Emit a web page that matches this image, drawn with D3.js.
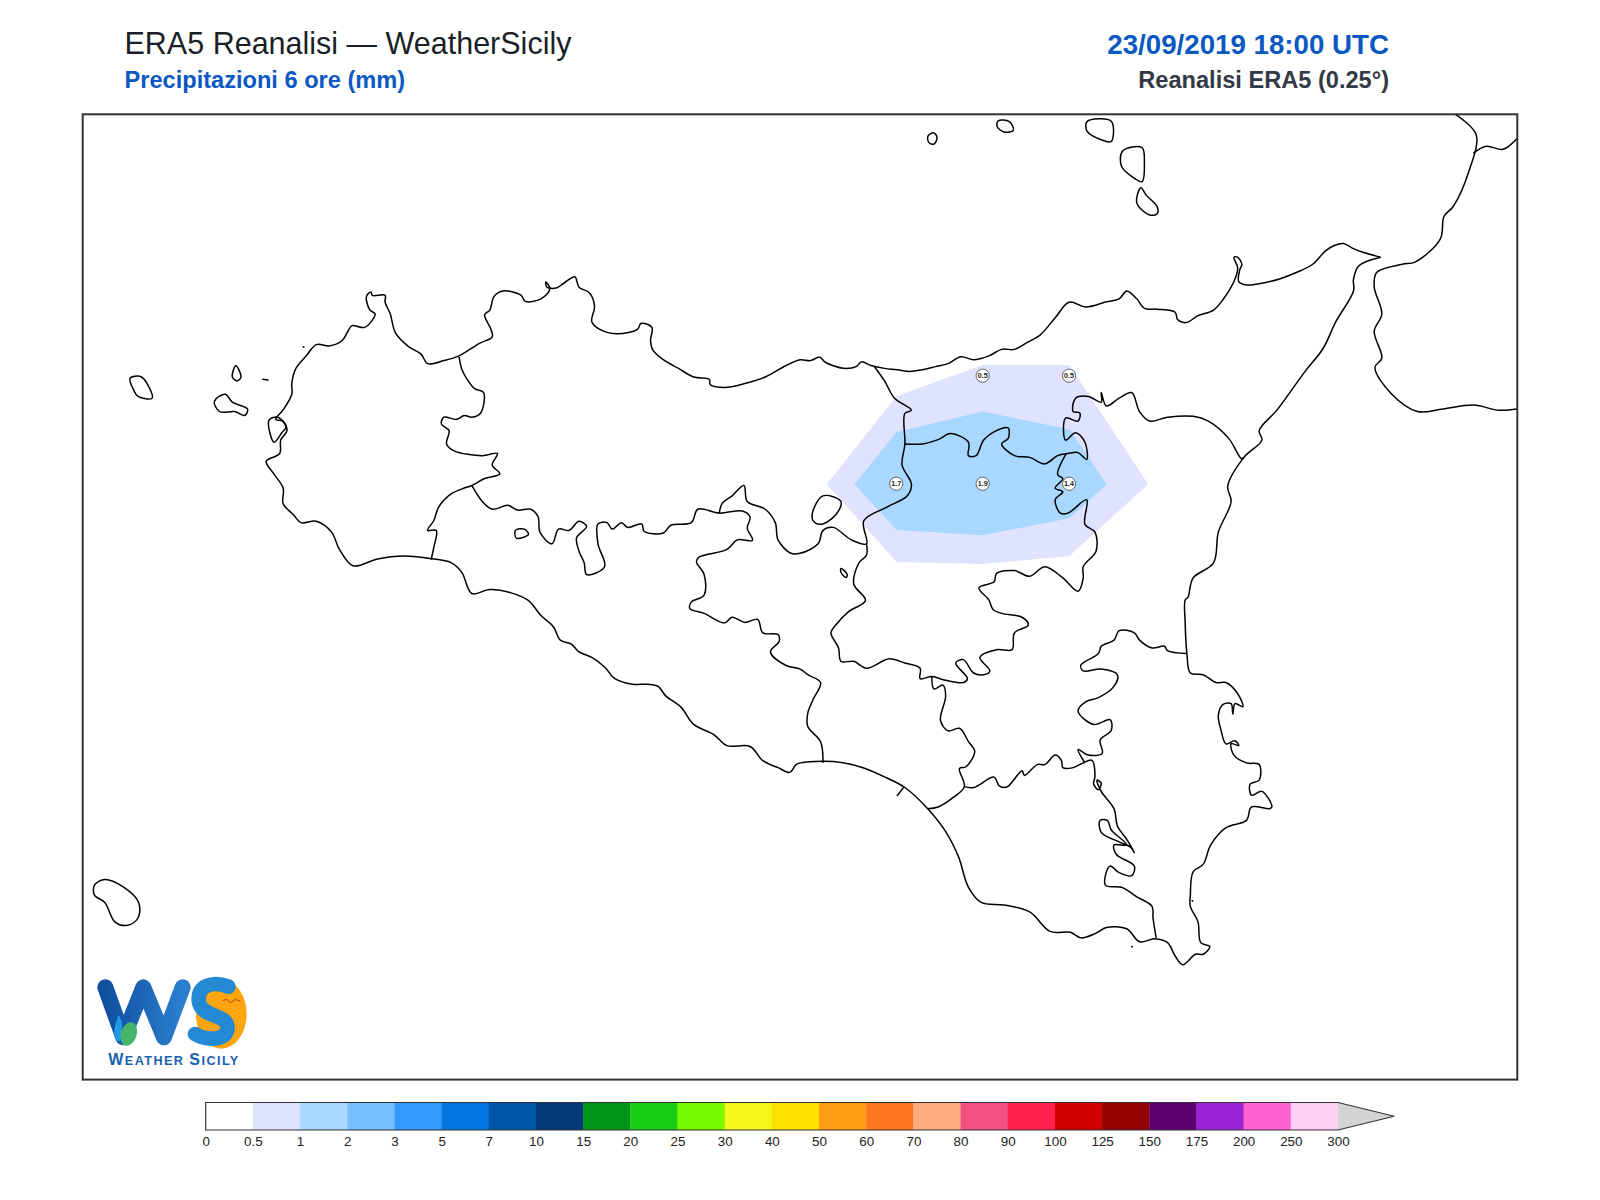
<!DOCTYPE html>
<html>
<head>
<meta charset="utf-8">
<title>ERA5 Reanalisi - WeatherSicily</title>
<script src="https://d3js.org/d3.v7.min.js"></script>
<style>
    html, body { margin: 0; padding: 0; background: #fff; }
    svg { display: block; }
    text { font-family: "Liberation Sans", Arial, sans-serif; }
</style>
</head>
<body>
<div id="chart"></div>
<script>
// extent of the map, degrees
var lonExtent = [11.896, 16.047];
var latExtent = [36.371, 38.605];

// ERA5 grid points with a printed value
var gridLon = [14.5, 14.75, 14.25, 14.5, 14.75];
var gridLat = [38.0, 38.0, 37.75, 37.75, 37.75];
var gridMm = ['0.5', '0.5', '1.7', '1.9', '1.4'];

// contour bands
var band05to1 = [[14.049,37.749],[14.251,37.953],[14.5,38.025],[14.751,38.025],[14.979,37.749],[14.751,37.583],[14.5,37.564],[14.251,37.569]];
var band1to2 = [[14.129,37.749],[14.251,37.870],[14.5,37.917],[14.751,37.876],[14.859,37.749],[14.751,37.670],[14.5,37.631],[14.251,37.643]];

// colour bar
var barLabels = ['0','0.5','1','2','3','5','7','10','15','20','25','30','40','50','60','70','80','90','100','125','150','175','200','250','300'];
var barColors = ['#ffffff','#e0e3ff','#a8d8ff','#74bfff','#3399ff','#0478e0','#0055a8','#033a78','#009418','#1acc14','#78fa00','#f5f51a','#ffe100','#ff9c14','#ff7520','#ffaa80','#f25080','#ff2050','#d00000','#920000','#5c0070','#9c22d8','#ff60d4','#ffd0f4'];

// coast lines, [lon, lat]
var coastSicily = [[15.652,38.274],[15.603,38.285],[15.573,38.294],[15.544,38.306],[15.519,38.302],[15.492,38.289],[15.455,38.258],[15.411,38.240],[15.359,38.224],[15.308,38.214],[15.263,38.210],[15.241,38.218],[15.244,38.245],[15.250,38.258],[15.238,38.274],[15.227,38.274],[15.238,38.249],[15.227,38.218],[15.197,38.178],[15.168,38.152],[15.123,38.139],[15.089,38.123],[15.064,38.130],[15.057,38.147],[15.005,38.154],[14.968,38.156],[14.946,38.178],[14.917,38.196],[14.895,38.178],[14.858,38.171],[14.799,38.159],[14.750,38.170],[14.710,38.134],[14.666,38.094],[14.629,38.077],[14.592,38.061],[14.555,38.061],[14.518,38.046],[14.474,38.037],[14.437,38.044],[14.400,38.028],[14.363,38.021],[14.326,38.014],[14.289,38.010],[14.252,38.014],[14.216,38.017],[14.179,38.023],[14.149,38.032],[14.134,38.021],[14.097,38.017],[14.068,38.023],[14.043,38.032],[14.028,38.043],[14.002,38.035],[13.972,38.037],
    [13.930,38.023],[13.871,37.997],[13.812,37.982],[13.753,37.973],[13.712,37.979],[13.709,37.992],[13.664,37.997],[13.620,38.017],[13.576,38.037],[13.546,38.059],[13.539,38.081],[13.543,38.112],[13.511,38.121],[13.502,38.108],[13.443,38.097],[13.391,38.108],[13.369,38.125],[13.377,38.161],[13.362,38.192],[13.332,38.205],[13.320,38.229],[13.288,38.214],[13.266,38.203],[13.239,38.205],[13.236,38.217],[13.248,38.201],[13.222,38.178],[13.177,38.172],[13.163,38.187],[13.111,38.196],[13.086,38.183],[13.074,38.152],[13.059,38.141],[13.077,38.108],[13.081,38.090],[13.044,38.075],[12.985,38.046],[12.941,38.035],[12.894,38.028],[12.875,38.050],[12.838,38.068],[12.801,38.099],[12.786,38.143],[12.771,38.170],[12.771,38.186],[12.734,38.186],[12.730,38.194],[12.717,38.183],[12.727,38.152],[12.742,38.143],[12.712,38.112],[12.675,38.116],[12.661,38.099],[12.646,38.081],[12.609,38.069],[12.572,38.072],[12.543,38.046],[12.513,38.017],[12.501,37.983],[12.501,37.957],[12.476,37.921],[12.454,37.899],[12.476,37.895],[12.487,37.873],[12.469,37.851],[12.466,37.820],[12.427,37.802],[12.447,37.775],[12.476,37.740],[12.476,37.704],[12.506,37.678],[12.528,37.660],[12.572,37.663],[12.616,37.638],[12.639,37.598],[12.678,37.560],[12.749,37.576],[12.823,37.583],[12.912,37.576],[12.963,37.567],[12.993,37.545],[13.022,37.496],[13.074,37.505],[13.133,37.498],[13.185,37.480],
    [13.222,37.445],[13.258,37.419],[13.278,37.388],[13.310,37.379],[13.332,37.361],[13.369,37.348],[13.406,37.326],[13.436,37.299],[13.487,37.286],[13.531,37.286],[13.561,37.281],[13.583,37.259],[13.627,37.233],[13.664,37.193],[13.723,37.169],[13.760,37.144],[13.827,37.142],[13.864,37.109],[13.908,37.093],[13.942,37.082],[13.960,37.100],[13.972,37.104],[14.068,37.107],[14.149,37.094],[14.223,37.069],[14.275,37.047],[14.341,36.998],[14.393,36.945],[14.430,36.887],[14.459,36.816],[14.496,36.781],[14.562,36.775],[14.636,36.759],[14.695,36.714],[14.754,36.712],[14.784,36.699],[14.828,36.710],[14.858,36.723],[14.917,36.720],[14.954,36.690],[14.998,36.697],[15.035,36.688],[15.057,36.657],[15.079,36.637],[15.116,36.661],[15.138,36.661],[15.157,36.679],[15.131,36.688],[15.123,36.736],[15.101,36.772],[15.101,36.799],[15.109,36.852],[15.138,36.869],[15.160,36.914],[15.204,36.954],[15.263,36.971],[15.278,37.002],[15.330,36.998],[15.337,37.002],[15.308,37.038],[15.278,37.029],[15.274,37.055],[15.300,37.064],[15.300,37.100],[15.263,37.104],[15.227,37.122],[15.219,37.148],[15.241,37.144],[15.230,37.155],[15.204,37.148],[15.190,37.179],[15.182,37.215],[15.197,37.240],[15.219,37.241],[15.224,37.217],[15.230,37.241],[15.253,37.234],[15.238,37.264],[15.204,37.290],[15.175,37.290],[15.138,37.308],[15.101,37.312],[15.091,37.357],[15.086,37.428],[15.086,37.481],[15.094,37.487],[15.109,37.532],[15.168,37.567],[15.182,37.638],[15.219,37.709],[15.209,37.744],[15.256,37.811],[15.308,37.851],[15.300,37.873],[15.352,37.921],[15.433,38.010],[15.485,38.063],[15.522,38.125],[15.573,38.196],[15.573,38.223],[15.588,38.254],[15.652,38.274]];
var coastCalabria = [[15.869,38.604],[15.928,38.558],[15.906,38.471],[15.861,38.391],[15.835,38.369],[15.824,38.316],[15.751,38.263],[15.714,38.258],[15.640,38.239],[15.633,38.205],[15.655,38.143],[15.633,38.103],[15.655,38.041],[15.635,38.019],[15.684,37.957],[15.758,37.917],[15.832,37.923],[15.920,37.932],[15.994,37.920],[16.046,37.923]];
var borderCalabria = [[15.920,38.515],[15.957,38.531],[16.006,38.524],[16.046,38.549]];
var gelaPier = [[14.252,37.027],[14.272,37.048]];

// islands and lakes (closed)
var islands = [
    [[12.033,37.994],[12.066,37.997],[12.097,37.948],[12.056,37.952],[12.044,37.966]],
    [[12.329,37.997],[12.339,38.023],[12.354,37.997],[12.343,37.988]],
    [[12.277,37.941],[12.309,37.957],[12.329,37.939],[12.373,37.923],[12.365,37.908],[12.336,37.917],[12.292,37.917]],
    [[12.417,37.992],[12.432,37.990]],
    [[12.435,37.897],[12.450,37.846],[12.472,37.868],[12.484,37.881],[12.461,37.904]],
    [[14.359,38.562],[14.368,38.551],[14.359,38.536],[14.344,38.540],[14.342,38.555]],
    [[14.545,38.590],[14.577,38.588],[14.589,38.568],[14.562,38.564],[14.542,38.577]],
    [[14.802,38.588],[14.872,38.589],[14.872,38.542],[14.843,38.546],[14.802,38.566]],
    [[14.905,38.520],[14.961,38.528],[14.968,38.493],[14.961,38.449],[14.939,38.457],[14.902,38.484]],
    [[14.958,38.435],[14.973,38.418],[15.005,38.391],[15.005,38.375],[14.983,38.372],[14.946,38.400]],
    [[11.930,36.821],[11.960,36.834],[12.011,36.818],[12.058,36.781],[12.056,36.745],[12.026,36.728],[11.989,36.736],[11.960,36.781],[11.930,36.798]],
    [[14.009,37.687],[14.038,37.722],[14.090,37.709],[14.075,37.678],[14.031,37.656],[14.009,37.665]],
    [[14.090,37.554],[14.108,37.540],[14.105,37.533],[14.090,37.545]],
    [[13.148,37.642],[13.174,37.645],[13.186,37.633],[13.151,37.624]],
    [[12.534,38.067],[12.536,38.066]],
    [[14.931,36.679],[14.933,36.678]],
    [[15.106,36.785],[15.108,36.784]]
];

// province borders
var borderTrapani = [[12.985,38.044],[12.993,38.015],[13.008,37.992],[13.030,37.970],[13.056,37.961],[13.047,37.913],[13.022,37.904],[13.000,37.908],[12.978,37.899],[12.941,37.904],[12.934,37.888],[12.956,37.873],[12.949,37.842],[12.971,37.826],[13.052,37.815],[13.096,37.820],[13.081,37.793],[13.103,37.773],[13.059,37.762],[13.022,37.746],[13.000,37.740],[12.963,37.727],[12.926,37.696],[12.912,37.665],[12.894,37.642],[12.919,37.642],[12.912,37.603],[12.904,37.574]];
var borderAgrigento = [[13.022,37.746],[13.052,37.709],[13.081,37.691],[13.126,37.700],[13.155,37.689],[13.192,37.691],[13.214,37.673],[13.219,37.638],[13.254,37.611],[13.273,37.645],[13.303,37.642],[13.332,37.663],[13.354,37.651],[13.325,37.625],[13.332,37.594],[13.347,37.567],[13.354,37.540],[13.406,37.558],[13.387,37.611],[13.387,37.657],[13.413,37.660],[13.428,37.645],[13.455,37.660],[13.472,37.649],[13.514,37.657],[13.520,37.640],[13.576,37.636],[13.598,37.654],[13.657,37.660],[13.676,37.691],[13.738,37.682],[13.805,37.687],[13.827,37.673],[13.819,37.647],[13.834,37.619],[13.790,37.620],[13.760,37.598],[13.679,37.580],[13.672,37.569],[13.694,37.540],[13.694,37.492],[13.657,37.476],[13.653,37.461],[13.694,37.450],[13.753,37.428],[13.775,37.441],[13.812,37.429],[13.849,37.436],[13.864,37.405],[13.908,37.401],[13.911,37.385],[13.886,37.361],[13.930,37.330],[13.972,37.321],[13.994,37.308],[14.031,37.290],[14.009,37.250],[13.994,37.219],[13.994,37.188],[14.031,37.153],[14.038,37.104]];
var borderPalermo = [[13.738,37.682],[13.746,37.704],[13.775,37.722],[13.809,37.746],[13.819,37.709],[13.871,37.691],[13.900,37.660],[13.908,37.620],[13.945,37.589],[13.972,37.589],[14.024,37.611],[14.038,37.642],[14.068,37.649],[14.120,37.620],[14.164,37.611],[14.156,37.664],[14.223,37.696],[14.282,37.722],[14.294,37.749],[14.267,37.793],[14.275,37.842],[14.275,37.913],[14.294,37.920],[14.245,37.948],[14.216,37.988],[14.186,38.022]];
var borderEnna = [[14.164,37.611],[14.164,37.585],[14.142,37.567],[14.127,37.518],[14.161,37.480],[14.112,37.454],[14.075,37.423],[14.061,37.405],[14.083,37.370],[14.090,37.339],[14.127,37.339],[14.164,37.323],[14.230,37.345],[14.275,37.335],[14.319,37.323],[14.319,37.299],[14.353,37.304],[14.393,37.295],[14.444,37.290],[14.456,37.299],[14.422,37.335],[14.444,37.343],[14.474,37.312],[14.503,37.308],[14.521,37.317],[14.492,37.348],[14.540,37.366],[14.585,37.366],[14.592,37.405],[14.632,37.423],[14.614,37.441],[14.555,37.450],[14.530,37.459],[14.518,37.481],[14.489,37.509],[14.533,37.523],[14.540,37.542],[14.592,37.549],[14.636,37.536],[14.680,37.558],[14.732,37.532],[14.776,37.501],[14.791,37.532],[14.791,37.558],[14.828,37.594],[14.825,37.638],[14.796,37.656],[14.801,37.713],[14.747,37.682],[14.725,37.682],[14.710,37.713],[14.732,37.731],[14.710,37.740],[14.732,37.762],[14.717,37.771],[14.742,37.820]];
var borderMessina = [[14.275,37.842],[14.326,37.842],[14.371,37.852],[14.407,37.866],[14.459,37.846],[14.459,37.815],[14.481,37.815],[14.503,37.851],[14.540,37.873],[14.574,37.879],[14.574,37.855],[14.555,37.842],[14.592,37.815],[14.636,37.811],[14.680,37.796],[14.717,37.815],[14.747,37.820],[14.776,37.822],[14.801,37.806],[14.796,37.846],[14.769,37.868],[14.740,37.851],[14.740,37.902],[14.776,37.895],[14.781,37.914],[14.762,37.917],[14.769,37.948],[14.806,37.952],[14.843,37.939],[14.843,37.961],[14.858,37.930],[14.895,37.948],[14.931,37.961],[14.954,37.917],[14.983,37.895],[15.035,37.904],[15.109,37.906],[15.153,37.895],[15.212,37.855],[15.249,37.808],[15.256,37.811]];
var borderGela = [[14.353,37.304],[14.359,37.275],[14.385,37.284],[14.393,37.259],[14.378,37.202],[14.400,37.178],[14.433,37.184],[14.459,37.153],[14.477,37.131],[14.452,37.095],[14.433,37.091],[14.447,37.049],[14.415,37.024],[14.371,37.002],[14.341,36.998]];
var borderRagusa = [[14.447,37.049],[14.474,37.047],[14.533,37.071],[14.548,37.051],[14.570,37.048],[14.614,37.086],[14.621,37.075],[14.658,37.100],[14.680,37.100],[14.710,37.122],[14.728,37.109],[14.732,37.093],[14.762,37.093],[14.791,37.104],[14.816,37.110],[14.825,37.073],[14.821,37.055],[14.835,37.042],[14.843,37.057],[14.831,37.064],[14.843,37.038],[14.880,36.998],[14.890,36.958],[14.917,36.927],[14.939,36.896],[14.928,36.909],[14.895,36.921],[14.843,36.943],[14.840,36.971],[14.861,36.971],[14.872,36.949],[14.917,36.914],[14.880,36.914],[14.887,36.892],[14.939,36.865],[14.931,36.843],[14.895,36.850],[14.868,36.865],[14.855,36.821],[14.902,36.816],[14.946,36.794],[14.990,36.772],[14.993,36.745],[15.002,36.699]];
var borderSiracusa = [[15.091,37.357],[15.035,37.364],[15.026,37.374],[14.990,37.370],[14.954,37.388],[14.939,37.405],[14.895,37.410],[14.880,37.388],[14.843,37.374],[14.835,37.357],[14.784,37.330],[14.791,37.317],[14.843,37.321],[14.890,37.308],[14.880,37.281],[14.835,37.255],[14.799,37.246],[14.776,37.224],[14.821,37.193],[14.869,37.204],[14.872,37.179],[14.840,37.157],[14.846,37.126],[14.806,37.122],[14.776,37.135],[14.796,37.104]];

var width = 1600, height = 1200;
var frame = {left: 82.7, right: 1517.3, top: 114.3, bottom: 1079.6};

var svg = d3.select('#chart').append('svg')
    .attr('width', width)
    .attr('height', height);

var x = d3.scaleLinear().domain(lonExtent).range([frame.left, frame.right]);
var y = d3.scaleLinear().domain(latExtent).range([frame.bottom, frame.top]);

// straight edges for the contours, rounder ones for the coast
var polyLine = d3.line()
    .x(function (d) { return x(d[0]); })
    .y(function (d) { return y(d[1]); });
var line = d3.line()
    .x(function (d) { return x(d[0]); })
    .y(function (d) { return y(d[1]); })
    .curve(d3.curveCatmullRom.alpha(0.5));
var closedLine = d3.line()
    .x(function (d) { return x(d[0]); })
    .y(function (d) { return y(d[1]); })
    .curve(d3.curveCatmullRomClosed.alpha(0.5));

svg.append('clipPath').attr('id', 'map-clip').append('rect')
    .attr('x', frame.left)
    .attr('y', frame.top)
    .attr('width', frame.right - frame.left)
    .attr('height', frame.bottom - frame.top);

var map = svg.append('g').attr('clip-path', 'url(#map-clip)');

// precipitation
map.selectAll('path.band')
    .data([{pts: band05to1, color: barColors[1]}, {pts: band1to2, color: barColors[2]}])
    .enter().append('path')
    .attr('class', 'band')
    .attr('d', function (d) { return polyLine(d.pts) + 'Z'; })
    .attr('fill', function (d) { return d.color; });

// coasts and borders
var openLines = [coastSicily, coastCalabria, borderCalabria, gelaPier, borderTrapani, borderAgrigento,
    borderPalermo, borderEnna, borderMessina, borderGela, borderRagusa, borderSiracusa];

map.selectAll('path.outline')
    .data(openLines)
    .enter().append('path')
    .attr('class', 'outline')
    .attr('d', line)
    .attr('fill', 'none')
    .attr('stroke', '#000')
    .attr('stroke-width', 1.5)
    .attr('stroke-linejoin', 'round');

map.selectAll('path.island')
    .data(islands)
    .enter().append('path')
    .attr('class', 'island')
    .attr('d', closedLine)
    .attr('fill', 'none')
    .attr('stroke', '#000')
    .attr('stroke-width', 1.5)
    .attr('stroke-linejoin', 'round');

// grid point values
var points = map.selectAll('g.point')
    .data(gridMm)
    .enter().append('g')
    .attr('class', 'point')
    .attr('transform', function (d, i) { return 'translate(' + x(gridLon[i]) + ',' + y(gridLat[i]) + ')'; });

points.append('circle')
    .attr('r', 6.6)
    .attr('fill', '#fff')
    .attr('stroke', '#555')
    .attr('stroke-width', 0.9);

points.append('text')
    .attr('text-anchor', 'middle')
    .attr('dy', '0.35em')
    .attr('font-size', 7.2)
    .attr('font-weight', 'bold')
    .attr('fill', '#222')
    .text(function (d) { return d; });

svg.append('rect')
    .attr('x', frame.left)
    .attr('y', frame.top)
    .attr('width', frame.right - frame.left)
    .attr('height', frame.bottom - frame.top)
    .attr('fill', 'none')
    .attr('stroke', '#333')
    .attr('stroke-width', 2);

// titles
function title(str, xPos, yPos, size, weight, color, anchor) {
    svg.append('text')
        .attr('x', xPos)
        .attr('y', yPos)
        .attr('font-size', size)
        .attr('font-weight', weight)
        .attr('fill', color)
        .attr('text-anchor', anchor)
        .text(str);
}

title('ERA5 Reanalisi \u2014 WeatherSicily', 124.5, 53.6, 30.5, 'normal', '#1a1f27', 'start');
title('Precipitazioni 6 ore (mm)', 124.5, 88, 23.6, 'bold', '#0a58c2', 'start');
title('23/09/2019 18:00 UTC', 1389, 53.6, 27.7, 'bold', '#0a58c2', 'end');
title('Reanalisi ERA5 (0.25\u00b0)', 1389, 88, 23.6, 'bold', '#333a44', 'end');

// colour bar
var barTop = 1102.5, barBottom = 1130;
var barX = d3.scalePoint().domain(barLabels).range([205.7, 1338]);

var bar = svg.append('g');

bar.selectAll('rect')
    .data(barColors)
    .enter().append('rect')
    .attr('x', function (d, i) { return barX(barLabels[i]); })
    .attr('y', barTop)
    .attr('width', barX.step() + 0.3)
    .attr('height', barBottom - barTop)
    .attr('fill', function (d) { return d; });

var barEnd = barX('300');
var tipX = barEnd + barX.step() * 1.19;

bar.append('path')
    .attr('d', 'M' + barEnd + ',' + barTop + 'L' + tipX + ',' + (barTop + barBottom) / 2 + 'L' + barEnd + ',' + barBottom + 'Z')
    .attr('fill', '#d4d4d4');

bar.append('path')
    .attr('d', 'M' + barEnd + ',' + barBottom + 'L' + barX('0') + ',' + barBottom + 'L' + barX('0') + ',' + barTop + 'L' + barEnd + ',' + barTop + 'L' + tipX + ',' + (barTop + barBottom) / 2 + 'Z')
    .attr('fill', 'none')
    .attr('stroke', '#333')
    .attr('stroke-width', 1.2);

var barAxis = svg.append('g')
    .attr('transform', 'translate(0,' + barBottom + ')')
    .call(d3.axisBottom(barX).tickSize(0).tickPadding(6));

barAxis.select('.domain').remove();
barAxis.selectAll('text')
    .attr('font-family', '"Liberation Sans", Arial, sans-serif')
    .attr('font-size', 13.4)
    .attr('fill', '#222');

// logo, drawn on the 3x crop units
var logo = svg.append('g').attr('transform', 'translate(80,960) scale(0.3333)');

var defs = svg.append('defs');
var wGrad = defs.append('linearGradient').attr('id', 'logo-w').attr('x1', 0).attr('x2', 1).attr('y1', 0).attr('y2', 0);
wGrad.append('stop').attr('offset', 0).attr('stop-color', '#0f4f9f');
wGrad.append('stop').attr('offset', 1).attr('stop-color', '#2a80cf');

logo.append('path')
    .attr('d', 'M76,82 L130,232 L190,82 L252,232 L308,82')
    .attr('fill', 'none')
    .attr('stroke', 'url(#logo-w)')
    .attr('stroke-width', 48)
    .attr('stroke-linejoin', 'round')
    .attr('stroke-linecap', 'round');

logo.append('path')
    .attr('d', 'M116,165 C130,190 130,215 118,245 C100,240 96,210 116,165Z')
    .attr('fill', '#1e9be8');

logo.append('ellipse')
    .attr('cx', 146).attr('cy', 222).attr('rx', 24).attr('ry', 36)
    .attr('transform', 'rotate(18 146 222)')
    .attr('fill', '#45b56a');

logo.append('ellipse')
    .attr('cx', 424).attr('cy', 162).attr('rx', 76).attr('ry', 104)
    .attr('fill', '#ffa50f');

logo.append('path')
    .attr('d', 'M445,80 C400,62 345,75 358,130 C370,175 450,160 442,210 C432,245 375,240 345,222')
    .attr('fill', 'none')
    .attr('stroke', '#2389d2')
    .attr('stroke-width', 44)
    .attr('stroke-linecap', 'round');

logo.append('path')
    .attr('d', 'M428,122 L440,118 L452,128 L466,118 L482,124')
    .attr('fill', 'none')
    .attr('stroke', '#b4421a')
    .attr('stroke-width', 3);

var logoText = logo.append('text')
    .attr('x', 85)
    .attr('y', 315)
    .attr('textLength', 390)
    .attr('font-weight', 'bold')
    .attr('fill', '#1a62b0');

logoText.append('tspan').attr('font-size', 48).text('W');
logoText.append('tspan').attr('font-size', 38).text('EATHER ');
logoText.append('tspan').attr('font-size', 48).text('S');
logoText.append('tspan').attr('font-size', 38).text('ICILY');
</script>
</body>
</html>
